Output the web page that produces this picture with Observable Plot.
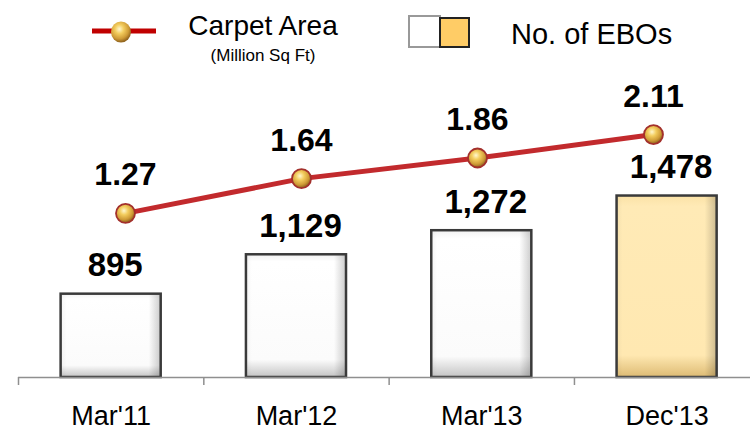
<!DOCTYPE html>
<html>
<head>
<meta charset="utf-8">
<script src="https://cdn.jsdelivr.net/npm/d3@7"></script>
<script src="https://cdn.jsdelivr.net/npm/@observablehq/plot@0.6"></script>
<style>
  html, body { margin: 0; padding: 0; background: #fff; }
  #chart { position: relative; width: 750px; height: 431px; font-family: "Liberation Sans", Arial, sans-serif; }
  #plots { position: relative; width: 750px; height: 361px; }
  #plots svg { position: absolute; left: 0; top: 0; }
</style>
</head>
<body>
<div id="chart">
  <svg width="0" height="0" style="position:absolute">
    <defs>
      <radialGradient id="goldBall" cx="42%" cy="36%" r="62%">
        <stop offset="0%" stop-color="#FFF7CF"/>
        <stop offset="35%" stop-color="#F3CD5E"/>
        <stop offset="75%" stop-color="#CF9B36"/>
        <stop offset="100%" stop-color="#93661F"/>
      </radialGradient>
      <linearGradient id="whiteFace" x1="0" y1="0" x2="0" y2="1">
        <stop offset="0%" stop-color="#f2f2f2"/>
        <stop offset="6%" stop-color="#ffffff"/>
        <stop offset="86%" stop-color="#fbfbfb"/>
        <stop offset="100%" stop-color="#c4c4c4"/>
      </linearGradient>
      <linearGradient id="goldFace" x1="0" y1="0" x2="0" y2="1">
        <stop offset="0%" stop-color="#FBE2A6"/>
        <stop offset="6%" stop-color="#FFEAB6"/>
        <stop offset="88%" stop-color="#FFE8B1"/>
        <stop offset="100%" stop-color="#DDBB74"/>
      </linearGradient>
      <linearGradient id="sideShade" x1="0" y1="0" x2="1" y2="0">
        <stop offset="0%" stop-color="#000" stop-opacity="0.04"/>
        <stop offset="6%" stop-color="#000" stop-opacity="0"/>
        <stop offset="88%" stop-color="#000" stop-opacity="0"/>
        <stop offset="100%" stop-color="#000" stop-opacity="0.2"/>
      </linearGradient>
    </defs>
  </svg>

  <!-- legend -->
  <svg id="legend" width="750" height="70" style="display:block">
    <line x1="92" y1="31" x2="156" y2="31" stroke="#C00000" stroke-width="5"/>
    <ellipse cx="121" cy="32" rx="10" ry="10.5" fill="url(#goldBall)"/>
    <text x="263" y="35" text-anchor="middle" font-size="28" fill="#000">Carpet Area</text>
    <text x="263" y="61" text-anchor="middle" font-size="17" fill="#000">(Million Sq Ft)</text>
    <rect x="409" y="16" width="31" height="31" fill="#fff" stroke="#999" stroke-width="2"/>
    <rect x="440" y="18" width="29" height="29" fill="#FFCC66" stroke="#222" stroke-width="2"/>
    <text x="511" y="44" font-size="29" fill="#000">No. of EBOs</text>
  </svg>

  <div id="plots"></div>
</div>

<script>
// Store network: period, number of exclusive brand outlets, carpet area (million sq ft)
const periods = ["Mar'11", "Mar'12", "Mar'13", "Dec'13"];
const ebos = [895, 1129, 1272, 1478];
const carpetArea = [1.27, 1.64, 1.86, 2.11];

const rows = periods.map((period, i) => ({i, period, ebos: ebos[i], area: carpetArea[i]}));

const font = "'Liberation Sans', Arial, sans-serif";
const eboMin = 400;          // EBO axis starts above zero
const halfBar = 0.27;        // half the bar width, in category steps
const boundaries = periods.map((_, i) => i - 0.5);
const fmt = d3.format(",");

// Bars: number of EBOs
const bars = Plot.plot({
  width: 750,
  height: 361,
  marginLeft: 18,
  marginRight: 0,
  marginTop: 4,
  marginBottom: 54,
  style: {background: "transparent", fontFamily: font, overflow: "visible"},
  x: {type: "linear", domain: [-0.5, 3.45], axis: null},
  y: {domain: [eboMin, 2200], axis: null},
  marks: [
    Plot.rect(rows, {
      x1: d => d.i - halfBar,
      x2: d => d.i + halfBar,
      y1: eboMin,
      y2: "ebos",
      fill: d => d.period.startsWith("Dec") ? "url(#goldFace)" : "url(#whiteFace)"
    }),
    Plot.rect(rows, {
      x1: d => d.i - halfBar,
      x2: d => d.i + halfBar,
      y1: eboMin,
      y2: "ebos",
      fill: "url(#sideShade)",
      stroke: "#3a3a3a",
      strokeWidth: 2.5
    }),
    Plot.ruleY([eboMin], {stroke: "#8f8f8f", strokeWidth: 1.5}),
    Plot.axisX({ticks: boundaries, tickSize: 8, tickFormat: () => "", label: null, stroke: "#8f8f8f", strokeWidth: 1.5}),
    Plot.axisX({
      ticks: rows.map(d => d.i),
      tickSize: 0,
      tickPadding: 28,
      tickFormat: i => periods[i],
      label: null,
      fontSize: 27,
      fill: "#000"
    }),
    Plot.text(rows, {
      x: "i",
      y: "ebos",
      text: d => fmt(d.ebos),
      dx: 4,
      dy: -18,
      lineAnchor: "bottom",
      fontSize: 33,
      fontWeight: "bold",
      fill: "#000"
    })
  ]
});

// Line: carpet area on its own scale
const line = Plot.plot({
  width: 750,
  height: 361,
  marginLeft: 37,
  marginRight: 9,
  marginTop: 4,
  marginBottom: 99,
  style: {background: "transparent", fontFamily: font, overflow: "visible"},
  x: {type: "point", domain: periods, padding: 0.5, axis: null},
  y: {domain: [0, 2.75], axis: null},
  marks: [
    Plot.line(rows, {x: "period", y: "area", stroke: "#C22A2D", strokeWidth: 5}),
    Plot.dot(rows, {x: "period", y: "area", r: 9.5, fill: "url(#goldBall)", stroke: "#A3302C", strokeWidth: 1.8}),
    Plot.text(rows, {
      x: "period",
      y: "area",
      text: d => d.area.toFixed(2),
      dy: -28,
      lineAnchor: "bottom",
      fontSize: 32,
      fontWeight: "bold",
      fill: "#000"
    })
  ]
});

const holder = document.getElementById("plots");
holder.appendChild(bars);
holder.appendChild(line);
</script>
</body>
</html>
